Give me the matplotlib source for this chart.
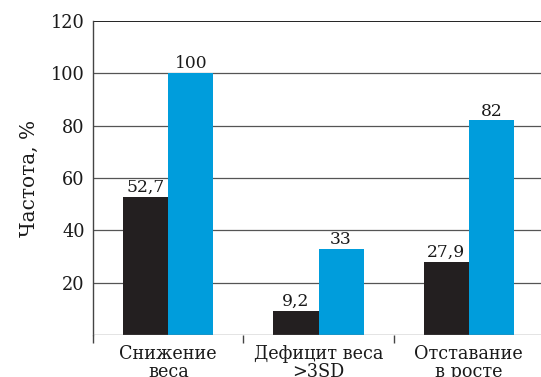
import matplotlib
matplotlib.use("Agg")
import matplotlib.pyplot as plt
import numpy as np

categories = ["Снижение\nвеса", "Дефицит веса\n>3SD", "Отставание\nв росте"]
series_dark = [52.7, 9.2, 27.9]
series_blue = [100, 33, 82]
yticks = [20, 40, 60, 80, 100, 120]

DARK = "#231f20"
BLUE = "#009ddc"
TXT = "#1a1a1a"

plt.rcParams["font.family"] = ["DejaVu Serif"]

fig = plt.figure(figsize=(5.41, 3.77), dpi=100)
ax = fig.add_axes([0.172, 0.111, 0.83, 0.834])

x = np.arange(len(categories))
w = 0.3
b1 = ax.bar(x - w / 2, series_dark, w, color=DARK, zorder=3)
b2 = ax.bar(x + w / 2, series_blue, w, color=BLUE, zorder=3)

def fmt(v):
    return (f"{v:g}").replace(".", ",")

for bars, vals in [(b1, series_dark), (b2, series_blue)]:
    for r, v in zip(bars, vals):
        ax.text(r.get_x() + r.get_width() / 2, v + 0.3, fmt(v), ha="center", va="bottom",
                fontsize=12.3, color=TXT)

ax.set_ylim(0, 120)
ax.set_xlim(-0.5, 2.487)
ax.set_yticks(yticks)
ax.set_yticklabels([str(t) for t in yticks], fontsize=12.8, color=TXT)
ax.tick_params(axis="y", length=0, pad=6)
for t in yticks[:-1]:
    ax.axhline(t, color="#555555", lw=0.9, zorder=1)
ax.axhline(120, color="#222222", lw=1.4, zorder=1)
ax.axhline(0, color="#777777", lw=1.0, zorder=4)

# category separators as outward ticks, labels in between
ax.set_xticks([-0.5, 0.5, 1.5])
ax.set_xticklabels([])
ax.tick_params(axis="x", direction="out", length=6, width=1, color="#444444")
ax.set_xticks(x, minor=True)
ax.set_xticklabels(categories, minor=True, fontsize=12.7, color=TXT, linespacing=1.0)
ax.tick_params(axis="x", which="minor", length=0, pad=7)

for s in ["top", "right", "bottom"]:
    ax.spines[s].set_visible(False)
ax.spines["left"].set_color("#444444")
ax.spines["left"].set_linewidth(1)

ax.set_ylabel("Частота, %", fontsize=14.5, color=TXT, labelpad=9)

fig.savefig("out.png", dpi=100)
